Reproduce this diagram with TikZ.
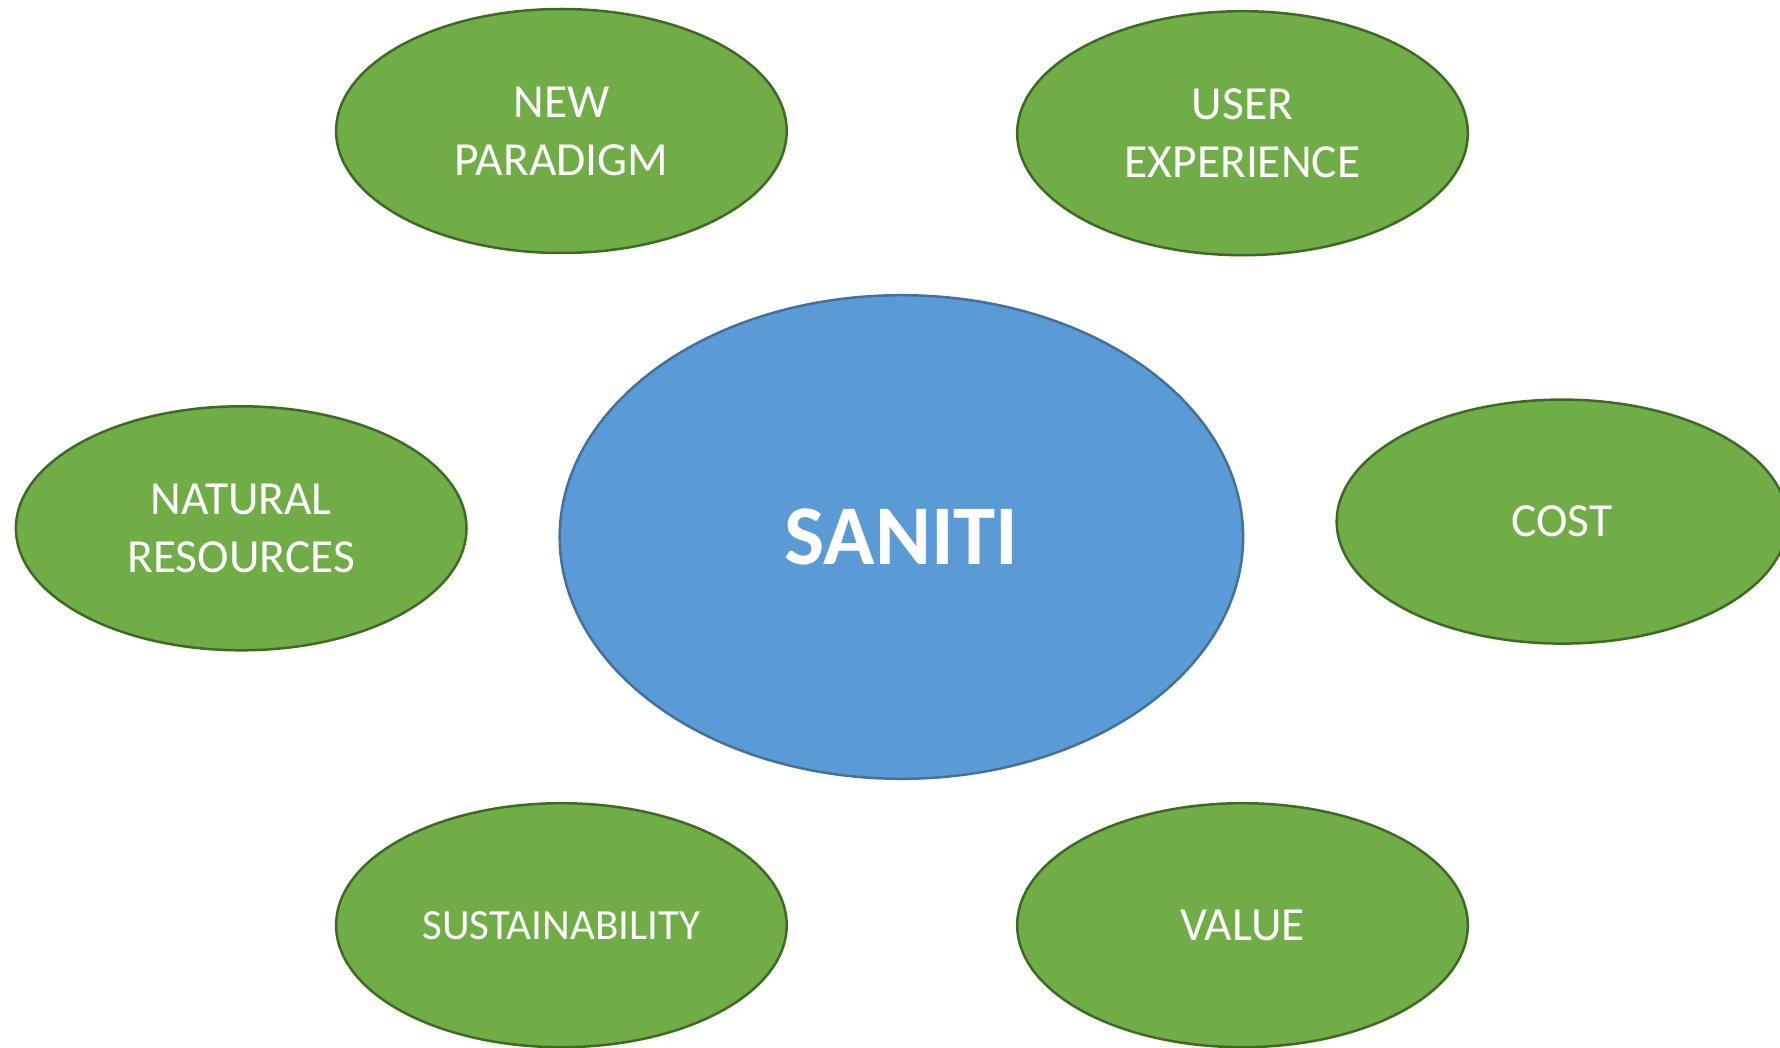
\documentclass[tikz,border=0pt]{standalone}
\usepackage{fontspec}
\setmainfont{Carlito}
\usetikzlibrary{shapes.geometric}
\definecolor{gfill}{HTML}{70AD47}
\definecolor{gline}{HTML}{3E6B24}
\definecolor{bfill}{HTML}{5B9BD5}
\definecolor{bline}{HTML}{41719C}
\begin{document}
\begin{tikzpicture}[x=1pt,y=-1pt,
  leaf/.style={ellipse,draw=gline,fill=gfill,line width=2.5pt,minimum width=450.6pt,minimum height=244pt,inner sep=0pt,align=center,text=white,font=\fontsize{47.5}{58}\selectfont},
  small/.style={font=\fontsize{43}{58}\selectfont},
  hub/.style={ellipse,draw=bline,fill=bfill,line width=2.5pt,minimum width=683.4pt,minimum height=483.6pt,inner sep=0pt,align=center,text=white,font=\fontsize{85}{96}\selectfont\bfseries}]
\useasboundingbox (0,0) rectangle (1780,1048);
\node[hub] (saniti) at (901.4,537) {\raisebox{-3pt}{SANITI}};
\node[leaf] (np) at (561.4,131) {NEW\\PARADIGM};
\node[leaf] (ue) at (1242.5,133.2) {USER\\EXPERIENCE};
\node[leaf] (nr) at (241.2,528.3) {NATURAL\\RESOURCES};
\node[leaf] (cost) at (1562,521.6) {\raisebox{-2pt}{COST}};
\node[leaf,small] (sus) at (561.4,925.2) {\raisebox{-2pt}{SUSTAINABILITY}};
\node[leaf] (val) at (1242.5,925.2) {\raisebox{-2pt}{VALUE}};
\end{tikzpicture}
\end{document}
